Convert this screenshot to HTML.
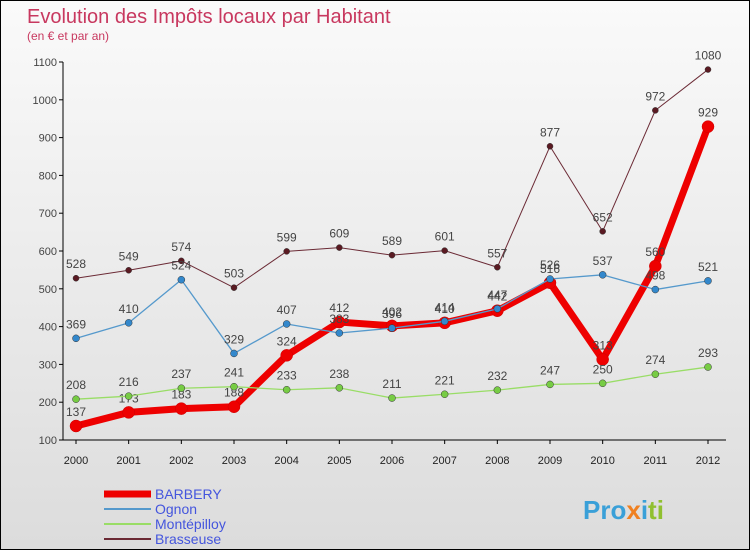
<!DOCTYPE html>
<html><head><meta charset="utf-8"><style>
body{margin:0;width:750px;height:550px;overflow:hidden;font-family:"Liberation Sans",sans-serif}
#wrap{position:relative;width:748px;height:548px;border:1px solid #000;background:linear-gradient(#fafafa,#dcdcdc)}
</style></head><body>
<div id="wrap">
<svg id="c" width="748" height="548">
<text x="26" y="22" font-size="20" fill="#c8385f">Evolution des Impôts locaux par Habitant</text>
<text x="26" y="39" font-size="12" fill="#c8385f">(en € et par an)</text>
<g id="axes"></g><g id="series"></g><g id="legend"></g>
<text x="582" y="518" font-size="26" font-weight="bold" fill="#3aa0d8">Pro<tspan fill="#f08020">x</tspan><tspan fill="#3aa0d8">i</tspan><tspan fill="#90c030">ti</tspan></text>
</svg></div>
<script>
const years=[2000,2001,2002,2003,2004,2005,2006,2007,2008,2009,2010,2011,2012];
const yTicks=[100,200,300,400,500,600,700,800,900,1000,1100];
const barbery=[137,173,183,188,324,412,402,410,442,516,313,560,929];
const ognon=[369,410,524,329,407,383,396,414,447,526,537,498,521];
const montepilloy=[208,216,237,241,233,238,211,221,232,247,250,274,293];
const brasseuse=[528,549,574,503,599,609,589,601,557,877,652,972,1080];
const NS="http://www.w3.org/2000/svg";
const X=i=>75+i*(707-75)/12, Y=v=>439-(v-100)*(439-61)/1000;
function mk(p,t,a){const e=document.createElementNS(NS,t);for(const k in a)e.setAttribute(k,a[k]);p.appendChild(e);return e;}
const ax=document.getElementById('axes');
mk(ax,'line',{x1:62,y1:61,x2:62,y2:439,stroke:'#000'});
mk(ax,'line',{x1:62,y1:439,x2:725,y2:439,stroke:'#000'});
yTicks.forEach(v=>{mk(ax,'line',{x1:58,y1:Y(v),x2:62,y2:Y(v),stroke:'#000'});
const t=mk(ax,'text',{x:56,y:Y(v)+4,'font-size':11,fill:'#444','text-anchor':'end'});t.textContent=v;
});
years.forEach((y,i)=>{mk(ax,'line',{x1:X(i),y1:439,x2:X(i),y2:443,stroke:'#000'});
const t=mk(ax,'text',{x:X(i),y:463,'font-size':11,fill:'#222','text-anchor':'middle'});t.textContent=y;
});
const sg=document.getElementById('series');
const defs=[[barbery,'#ee0000','#ee0000',7,6,'barbery'],[brasseuse,'#6b2a35','#5a1a22',1,3,'brasseuse'],[montepilloy,'#99dd66','#77cc44',1.3,3.5,'montepilloy'],[ognon,'#5599cc','#3388cc',1.3,3.5,'ognon']];
defs.forEach(([d,c,mc,w,r,n])=>{
const g=mk(sg,'g',{});
const l=mk(g,'polyline',{points:d.map((v,i)=>X(i)+','+Y(v)).join(' '),fill:'none',stroke:c,'stroke-width':w,'stroke-linejoin':'round'});

d.forEach((v,i)=>{const p=mk(g,'circle',{cx:X(i),cy:Y(v),r:r,fill:mc,stroke:n=='barbery'?'#c00':'#333','stroke-width':0.5});

const t=mk(g,'text',{x:X(i),y:Y(v)-10,'font-size':12,fill:'#444','text-anchor':'middle'});t.textContent=v;
});});
const lg=document.getElementById('legend');
[['BARBERY','#ee0000',7],['Ognon','#5599cc',2],['Montépilloy','#99dd66',2],['Brasseuse','#6b2a35',2]].forEach(([n,c,w],i)=>{
const y=493+i*15;const g=mk(lg,'g',{});
mk(g,'line',{x1:103,y1:y,x2:150,y2:y,stroke:c,'stroke-width':w});
const t=mk(g,'text',{x:154,y:y+5,'font-size':14,fill:'#4455dd'});t.textContent=n;});
</script></body></html>
